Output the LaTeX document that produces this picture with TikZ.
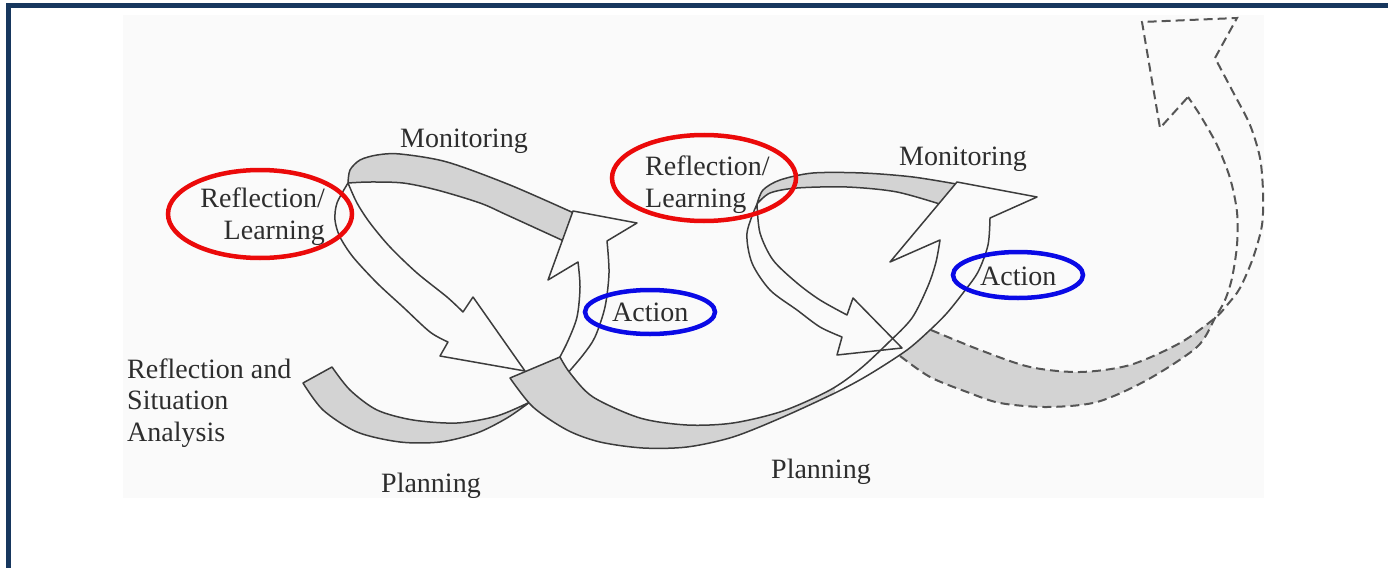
\documentclass[tikz,border=0pt]{standalone}
\usepackage{fontspec}
\setmainfont{Liberation Serif}
\definecolor{navy}{RGB}{23,55,94}
\definecolor{bandgray}{RGB}{211,211,211}
\definecolor{edgec}{RGB}{60,60,60}
\definecolor{bgc}{RGB}{250,250,250}
\definecolor{txt}{RGB}{45,45,45}
\definecolor{redc}{RGB}{235,10,10}
\definecolor{bluec}{RGB}{10,10,230}
\definecolor{dashc}{RGB}{85,85,85}
\tikzset{
 edge/.style={draw=edgec, line width=1.5pt, line join=round},
 band/.style={edge, fill=bandgray},
 whitearrow/.style={edge, fill=bgc},
 dashedge/.style={draw=dashc, line width=2pt, dash pattern=on 9pt off 5pt},
 lbl/.style={text=txt, font=\fontsize{28}{31.5}\selectfont, inner sep=0pt},
 redring/.style={draw=redc, line width=4.5pt},
 bluering/.style={draw=bluec, line width=4.5pt},
}
\def\ribbontwo{(510,378) -- plot[smooth] coordinates {(560,357) (570,373) (593,397) (640,418) (687,425) (733,423) (783,411) (830,390) (860,369) (888,343) (912,318) (928,286) (936,262) (940,240)} -- (890,262) -- (957,182) -- (1037,197) -- plot[smooth] coordinates {(990,218) (988,245) (978,272) (963,293) (947,313) (930,330) (907,350) (870,374) (837,392) (783,417) (733,437) (687,447) (643,448) (600,442) (567,430) (533,407) (510,378)} -- cycle}
\begin{document}
\begin{tikzpicture}[x=1pt,y=-1pt]
\useasboundingbox (0,0) rectangle (1388,567);
\clip (0,0) rectangle (1388,567);
\fill[white] (0,0) rectangle (1388,567);
\fill[bgc] (123,15) rectangle (1264,498);
\draw[navy, line width=5pt] (8.5,620) -- (8.5,5.5) -- (1420,5.5);

% planning band 1
\draw[band] (303,383) -- plot[smooth] coordinates {(332,367) (350,390) (377,410) (413,420) (457,423) (497,416) (530,402)} -- plot[smooth] coordinates {(530,402) (507,418) (477,433) (440,442) (400,442) (357,432) (323,410) (303,383)} -- cycle;

% monitoring band 1
\draw[band] plot[smooth] coordinates {(348,183) (350,170) (360,160) (377,155) (400,154) (447,162) (510,185) (576,214)} -- plot[smooth] coordinates {(566,242) (507,215) (480,203) (437,190) (403,183) (370,182) (348,183)} -- cycle;

% reflection arrow 1
\draw[edge] plot[smooth] coordinates {(348,183) (337,203) (335,220) (340,237) (353,257) (377,283) (403,307) (430,332) (448,342)} -- (440,356) -- (525,371) -- (473,297) -- plot[smooth] coordinates {(463,312) (447,297) (417,273) (390,247) (370,223) (357,203) (348,183)} -- cycle;

% action arrow 1
\draw[whitearrow] plot[smooth] coordinates {(555,366) (567,343) (577,317) (580,287) (578,262)} -- (548,280) -- (573,211) -- (637,223) -- plot[smooth] coordinates {(607,241) (609,273) (605,307) (595,337) (583,355) (566,375)} -- cycle;

% monitoring band 2
\draw[band] plot[smooth] coordinates {(757,204) (763,190) (780,180) (813,173) (863,173) (913,177) (962,185)} -- plot[smooth] coordinates {(946,206) (897,192) (847,187) (797,188) (770,193) (757,204)} -- cycle;

% dashed band
\fill[bandgray] (931,330) -- plot[smooth] coordinates {(931,330) (980,350) (1030,367) (1080,372) (1130,365) (1180,343) (1215,318)} -- plot[smooth] coordinates {(1215,318) (1197,347) (1147,380) (1097,402) (1047,407) (1000,403) (967,392) (930,377) (900,356)} -- cycle;
\draw[dashedge] plot[smooth] coordinates {(931,330) (980,350) (1030,367) (1080,372) (1130,365) (1180,343) (1215,318) (1228,304) (1240,288) (1253,258) (1262,225) (1263,192) (1260,158) (1250,125) (1233,92) (1215,58)} -- (1237,18) -- (1142,22) -- (1160,128) -- (1188,97);
\draw[dashedge] plot[smooth] coordinates {(900,356) (930,377) (967,392) (1000,403) (1047,407) (1097,402) (1147,380) (1197,347) (1215,318) (1225,300) (1232,278) (1237,245) (1237,212) (1230,178) (1217,145) (1200,115) (1188,97)};

% planning band 2 + action arrow 2
\begin{scope}
\clip (0,0) rectangle (835,600);
\fill[bandgray] \ribbontwo;
\end{scope}
\begin{scope}
\clip (835,0) rectangle (1400,600);
\fill[bgc] \ribbontwo;
\end{scope}
\draw[edge] \ribbontwo;

% reflection arrow 2
\draw[edge] plot[smooth] coordinates {(757,204) (747,233) (752,263) (770,290) (797,310) (820,327) (842,337)} -- (837,355) -- (902,348) -- (853,298) -- plot[smooth] coordinates {(847,315) (820,300) (797,283) (773,260) (760,233) (757,204)} -- cycle;

% labels
\node[lbl, anchor=base west] (mon1) at (400,147) {Monitoring};
\node[lbl, anchor=base west] (mon2) at (899,165) {Monitoring};
\node[lbl, anchor=base east, align=right] (rl1) at (325,239) {Reflection/\\Learning};
\node[lbl, anchor=base west, align=left] (rl2) at (645,207) {Reflection/\\Learning};
\node[lbl, anchor=base west] (act1) at (612,321) {Action};
\node[lbl, anchor=base west] (act2) at (980,285) {Action};
\node[lbl, anchor=base west, align=left] (rsa) at (127,441) {Reflection and\\Situation\\Analysis};
\node[lbl, anchor=base west] (plan1) at (381,492) {Planning};
\node[lbl, anchor=base west] (plan2) at (771,478) {Planning};

% highlight rings
\draw[redring] (260,214) ellipse [x radius=92pt, y radius=44pt];
\draw[redring] (704,178) ellipse [x radius=92pt, y radius=43pt];
\draw[bluering] (650,312) ellipse [x radius=65pt, y radius=22pt];
\draw[bluering] (1018,275) ellipse [x radius=65pt, y radius=23pt];
\end{tikzpicture}
\end{document}
